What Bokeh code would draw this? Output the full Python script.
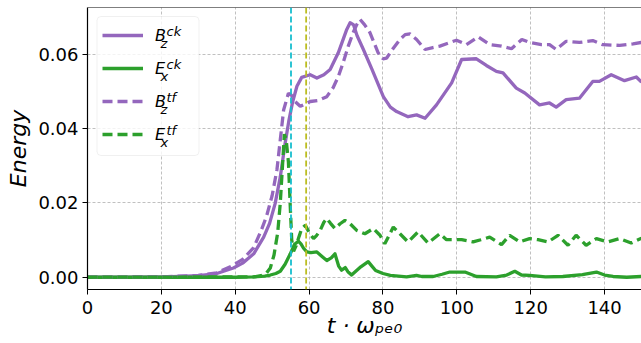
from bokeh.plotting import figure
from bokeh.models import (Range1d, FixedTicker, NumeralTickFormatter, Span, Label, Legend, LegendItem,
                          BoxAnnotation)
from bokeh.embed import file_html
from bokeh.resources import INLINE

# ---------------- data ----------------
t_bz_ck = [0, 10, 20, 25, 30, 35, 39.5, 42, 45, 47.7, 49.3, 50.8, 52.2, 53.5, 54.5, 55.5, 56.7, 58, 60.3,
           62.1, 64, 65.7, 67.9, 70.2, 71.1, 72, 73, 74.7, 77, 80.1, 82, 83.7, 86.8, 89.1, 91.4, 94.5,
           98.6, 101.3, 105.3, 108, 110.7, 112.5, 116.1, 118.4, 122.4, 125.1, 126.9, 129.6, 133.2,
           136.8, 138.6, 141.8, 145.4, 148.6, 150]
bz_ck = [0, 0, 0.0001, 0.0002, 0.0004, 0.001, 0.0025, 0.0038, 0.0063, 0.0108, 0.0145, 0.0198, 0.027,
         0.036, 0.042, 0.047, 0.0514, 0.0538, 0.0545, 0.0536, 0.0545, 0.0559, 0.0604, 0.0667, 0.0685,
         0.068, 0.065, 0.0613, 0.056, 0.0486, 0.0458, 0.0446, 0.0432, 0.0437, 0.0428, 0.0464, 0.0523,
         0.0586, 0.0588, 0.057, 0.0554, 0.055, 0.0509, 0.0496, 0.0464, 0.0469, 0.0458, 0.0478, 0.0482,
         0.0527, 0.0527, 0.0545, 0.0529, 0.0539, 0.0525]

t_ex_ck = [0, 40, 45, 48, 49.5, 51, 52.2, 53.5, 54.9, 56, 57.1, 57.8, 58.5, 59.4, 60.5, 62.1, 63.5, 64.8,
           66, 67, 68, 68.8, 69.8, 70.5, 71.5, 74, 76, 77, 78, 80, 82, 86.4, 89.1, 90.5, 93.6, 96,
           98.1, 102.2, 105.3, 110.7, 113.5, 115.7, 117.5, 119.7, 124, 128.7, 134, 137.8, 140, 142.3,
           146, 150]
ex_ck = [0, 0, 0.0001, 0.0003, 0.0006, 0.001, 0.0016, 0.0035, 0.0063, 0.0088, 0.0097, 0.009, 0.0078,
         0.0068, 0.0066, 0.0068, 0.0056, 0.0045, 0.0052, 0.0063, 0.003, 0.0019, 0.0026, 0.0015, 0.0006,
         0.0028, 0.0042, 0.003, 0.0018, 0.001, 0.0005, 0.0001, 0.0005, 0.0002, 0.0002, 0.0008, 0.0014,
         0.0014, 0.0002, 0.0001, 0.0006, 0.0016, 0.0006, 0.0005, 0.0001, 0.0002, 0.0007, 0.0014,
         0.0006, 0.0002, 0.0, 0.0002]

t_bz_tf = [0, 20, 30, 35, 39, 42, 45, 47, 48.5, 50, 51.3, 52.2, 53.1, 54.4, 55.2, 56.2, 57.6, 60.3, 62.5,
           64.8, 66.5, 67.9, 69.3, 70.6, 72, 72.9, 73.8, 75, 76.5, 78.7, 80, 81, 82.7, 84.6, 86, 87.3,
           89.1, 91.4, 93.5, 95.4, 99.9, 102.6, 105.8, 108.9, 112.1, 114.8, 117.6, 119.7, 122.9, 125.1,
           126.9, 129.6, 133.2, 136.8, 139.5, 144.1, 147.7, 150]
bz_tf = [0, 0.0001, 0.0005, 0.0012, 0.003, 0.0048, 0.008, 0.0125, 0.0165, 0.022, 0.029, 0.037, 0.045,
         0.0495, 0.049, 0.0473, 0.046, 0.0473, 0.0476, 0.0486, 0.051, 0.054, 0.058, 0.0622, 0.066, 0.068,
         0.0694, 0.068, 0.0658, 0.0604, 0.0588, 0.059, 0.0615, 0.064, 0.0653, 0.0655, 0.064, 0.0613,
         0.0618, 0.0622, 0.0638, 0.0626, 0.0647, 0.0626, 0.0622, 0.0615, 0.064, 0.0632, 0.0626, 0.0626,
         0.0613, 0.0635, 0.0632, 0.0637, 0.0626, 0.0624, 0.0628, 0.0632]

t_ex_tf = [0, 45, 47, 48.5, 49.5, 50.5, 51.5, 52.2, 52.8, 53.3, 53.8, 54.4, 54.9, 55.3, 55.8, 56.5, 57.3,
           58, 59, 60, 61.2, 62, 63, 64, 64.8, 65.8, 67, 68.4, 69.7, 71, 72.9, 75.1, 77.4, 79.2, 80.5,
           82.8, 84.6, 86.8, 89.5, 92.2, 95.4, 97.2, 101.3, 104.4, 106.5, 108.9, 112.1, 114.3, 117,
           119.7, 122, 124.7, 127.4, 130.1, 132.3, 135, 137.8, 140.9, 144.1, 147.2, 150]
ex_tf = [0, 0.0001, 0.0004, 0.0012, 0.0025, 0.006, 0.012, 0.02, 0.03, 0.0385, 0.037, 0.031, 0.019, 0.01,
         0.007, 0.0085, 0.011, 0.0131, 0.014, 0.012, 0.0104, 0.0112, 0.0126, 0.0148, 0.0158, 0.0145,
         0.0131, 0.0144, 0.0153, 0.0145, 0.0126, 0.0117, 0.0131, 0.0113, 0.009, 0.0135, 0.0117, 0.0095,
         0.0122, 0.0092, 0.0117, 0.0101, 0.0101, 0.0095, 0.0101, 0.0108, 0.0088, 0.0113, 0.0095, 0.0104,
         0.0101, 0.0095, 0.0113, 0.0086, 0.0113, 0.0086, 0.0104, 0.0095, 0.0104, 0.0092, 0.0105]

marker_times = [55.1, 59.2]
x_ticks = [0, 20, 40, 60, 80, 100, 120, 140]
y_ticks = [0.0, 0.02, 0.04, 0.06]
legend_base = ["B", "E", "B", "E"]
legend_sub = ["z", "x", "z", "x"]
legend_sup = ["ck", "ck", "tf", "tf"]
x_label = "t \u00b7 \u03c9\u209a\u2091\u2080"
y_label = "Energy"

# ---------------- layout ----------------
X0, X1 = 0, 150
Y0, Y1 = -0.0033, 0.0726
W, H = 641, 343
BL, BR, BT, BB = 87, 0, 7, 54
FW, FH = W - BL - BR, H - BT - BB


def dx(px):
    return X0 + (px - BL) / FW * (X1 - X0)


def dy(py):
    return Y1 - (py - BT) / FH * (Y1 - Y0)


PURPLE, GREEN = "#9467bd", "#2ca02c"
FONT = "DejaVu Sans"

p = figure(width=W, height=H, x_range=Range1d(X0, X1), y_range=Range1d(Y0, Y1),
           output_backend="svg", toolbar_location=None,
           min_border_left=BL, min_border_right=BR, min_border_top=BT, min_border_bottom=BB)
p.outline_line_color = None
p.background_fill_color = "white"

for ax in (p.xaxis[0], p.yaxis[0]):
    ax.major_label_text_font = FONT
    ax.major_label_text_font_size = "18px"
    ax.major_label_text_color = "black"
    ax.axis_line_color = "black"
    ax.axis_line_width = 1.2
    ax.major_tick_line_color = "black"
    ax.major_tick_out = 5
    ax.major_tick_in = 0
    ax.minor_tick_out = 0
    ax.minor_tick_in = 0
    ax.axis_label_text_font = FONT
    ax.axis_label_text_font_size = "22px"
    ax.axis_label_text_font_style = "italic"
    ax.axis_label_text_color = "black"

p.xaxis.ticker = FixedTicker(ticks=x_ticks)
p.yaxis.ticker = FixedTicker(ticks=y_ticks)
p.yaxis.formatter = NumeralTickFormatter(format="0.00")
p.xaxis.major_label_standoff = 6
p.yaxis.major_label_standoff = 4
p.yaxis.axis_label = y_label
p.yaxis.axis_label_standoff = 4
p.xaxis.axis_label = x_label
p.xaxis.axis_label_standoff = -4

for g in (p.xgrid[0], p.ygrid[0]):
    g.grid_line_color = "#b0b0b0"
    g.grid_line_dash = "3 2"
    g.grid_line_width = 0.8
p.xgrid.ticker = FixedTicker(ticks=x_ticks)
p.ygrid.ticker = FixedTicker(ticks=y_ticks)

# top spine
p.add_layout(Span(location=Y1, dimension="width", line_color="black", line_width=1.2))

r1 = p.line(t_bz_ck, bz_ck, line_color=PURPLE, line_width=3.3, line_join="round")
r2 = p.line(t_ex_ck, ex_ck, line_color=GREEN, line_width=3.3, line_join="round")
r3 = p.line(t_bz_tf, bz_tf, line_color=PURPLE, line_width=3.3, line_dash="10 5")
r4 = p.line(t_ex_tf, ex_tf, line_color=GREEN, line_width=3.3, line_dash="10 5")

for t, c in zip(marker_times, ["#17becf", "#bcbd22"]):
    p.add_layout(Span(location=t, dimension="height", line_color=c, line_width=1.8, line_dash="6 3"))

# legend frame (semi-transparent, rounded)
p.add_layout(BoxAnnotation(left=dx(96.5), right=dx(198.5), top=dy(16), bottom=dy(155),
                           fill_color="white", fill_alpha=0.8, line_color="#cccccc", line_width=1,
                           border_radius=4, level="annotation"))

renderers = [r1, r2, r3, r4]
legend = Legend(items=[LegendItem(label=b, renderers=[r]) for b, r in zip(legend_base, renderers)],
                location="top_left", margin=15, padding=0, spacing=7,
                glyph_width=41, glyph_height=26, label_height=26, label_width=37,
                label_standoff=12, label_text_font=FONT, label_text_font_style="italic",
                label_text_font_size="16px", label_text_color="black",
                border_line_color=None, background_fill_color=None, background_fill_alpha=0)
p.add_layout(legend)

# sub/superscripts of the legend labels
for i, (sb, sp) in enumerate(zip(legend_sub, legend_sup)):
    c = BT + 15 + 13 + 33 * i
    p.add_layout(Label(x=dx(166), y=dy(c - 4), text=sp, text_font=FONT, text_font_style="italic",
                       text_font_size="13px", text_baseline="middle", text_align="left",
                       text_color="black", level="overlay"))
    p.add_layout(Label(x=dx(160), y=dy(c + 7.5), text=sb, text_font=FONT, text_font_style="italic",
                       text_font_size="13px", text_baseline="middle", text_align="left",
                       text_color="black", level="overlay"))

open("out.html", "w").write(file_html(p, INLINE))
